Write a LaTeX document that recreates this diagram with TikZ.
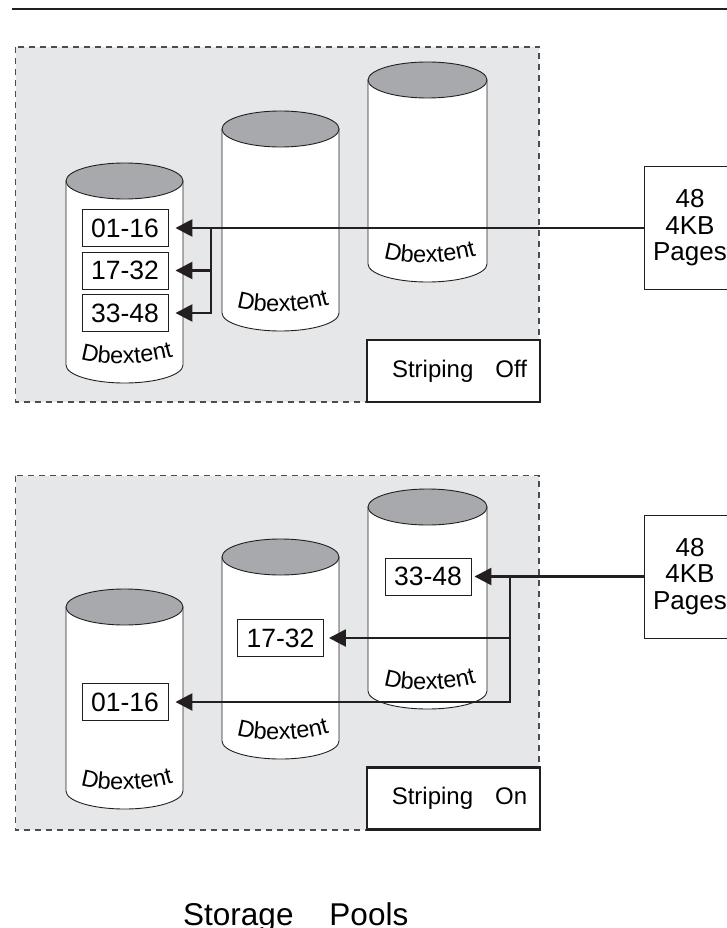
\documentclass[tikz,border=0pt]{standalone}
\usepackage{fontspec}
\setmainfont{Liberation Sans}
\usetikzlibrary{arrows.meta,decorations.text}

\definecolor{ink}{HTML}{231F20}
\definecolor{poolfill}{HTML}{E6E7E8}
\definecolor{capfill}{HTML}{A7A9AC}
\definecolor{dashgray}{HTML}{4D4D4F}

\newcommand\dbfont{\fontsize{23.5}{23.5}\selectfont}

% A disk: white body, grey top face, and the label bent along the bottom rim.
% #1 centre x, #2 centre y of the top face, #3 horizontal radius
\newcommand\dbcylinder[3]{%
  \filldraw[cylbody] (#1-#3,#2) -- (#1-#3,#2+184)
    arc[start angle=180,end angle=360,x radius=#3pt,y radius=18pt]
    -- (#1+#3,#2) -- cycle;
  \filldraw[cylcap] (#1,#2) ellipse[x radius=#3pt,y radius=18pt];
  \path[decorate,decoration={text along path,text align=center,
        text={|\dbfont|Dbextent}}]
    (#1-49,#2+176) .. controls (#1-25,#2+186) and (#1+20,#2+185) .. (#1+54,#2+174);
}

\tikzset{
  cylbody/.style={fill=white,draw=ink,line width=0.9pt},
  cylcap/.style={fill=capfill,draw=ink,line width=0.9pt},
  pool/.style={fill=poolfill,draw=dashgray,line width=1.2pt,dash pattern=on 6pt off 5pt},
  rangebox/.style={draw=ink,line width=0.9pt,fill=white,minimum width=86pt,
    minimum height=37pt,inner sep=0pt,font=\fontsize{26.5}{26.5}\selectfont},
  pagesbox/.style={draw=ink,line width=1pt,fill=white,minimum width=92pt,
    minimum height=123pt,align=center,inner sep=0pt,font=\fontsize{26}{26.5}\selectfont},
  modebox/.style={draw=ink,line width=2.4pt,fill=white,minimum width=173pt,
    minimum height=62pt,inner sep=0pt,font=\fontsize{24}{24}\selectfont},
  feed/.style={draw=ink,line width=2.6pt},
  feedarrow/.style={feed,-{Triangle[length=17pt,width=17pt]}},
}

\begin{document}
\begin{tikzpicture}[x=1pt,y=-1pt]
\useasboundingbox (0,0) rectangle (727,928);

% rule across the top
\draw[ink,line width=2pt] (12,9.5) -- (740,9.5);

% ---------- striping off ----------
\draw[pool] (15.5,47) rectangle (539,402);
\dbcylinder{124.5}{181}{58.5}
\dbcylinder{280.5}{129}{58.5}
\dbcylinder{427.5}{80}{59.5}

\node[rangebox] (t1) at (125,228) {01-16};
\node[rangebox] (t2) at (125,270.5) {17-32};
\node[rangebox] (t3) at (125,313) {33-48};
\node[pagesbox] (tp) at (690,228) {48\\4KB\\Pages};
\node[modebox] (toff) at (453.5,371) {\hspace*{12pt}Striping\hspace{22pt}Off};
\coordinate (tj) at (211,228);

\draw[feedarrow,shorten >=7pt] (tp.west) -- (t1.east);
\draw[feedarrow,shorten >=7pt] (tj) |- (t3.east);
\draw[feedarrow,shorten >=7pt] (tj |- t2.east) -- (t2.east);

% ---------- striping on ----------
\draw[pool] (15.5,475.5) rectangle (539,830);
\dbcylinder{124.5}{607}{58.5}
\dbcylinder{280.5}{557}{58.5}
\dbcylinder{427.5}{507}{59.5}

\node[rangebox] (b6) at (428,576.5) {33-48};
\node[rangebox] (b5) at (280.5,638) {17-32};
\node[rangebox] (b4) at (125,702) {01-16};
\node[pagesbox] (bp) at (690,576.5) {48\\4KB\\Pages};
\node[modebox] (bon) at (453.5,798.5) {\hspace*{12pt}Striping\hspace{22pt}On};
\coordinate (bj) at (510,576.5);

\draw[feedarrow,shorten >=3pt] (bp.west) -- (b6.east);
\draw[feedarrow,shorten >=7pt] (bj) |- (b4.east);
\draw[feedarrow,shorten >=5pt] (bj |- b5.east) -- (b5.east);

% caption
\node[anchor=base west,inner sep=0pt,font=\fontsize{31.5}{31.5}\selectfont] (caption)
  at (183,925) {Storage\hspace{36pt}Pools};
\end{tikzpicture}
\end{document}
